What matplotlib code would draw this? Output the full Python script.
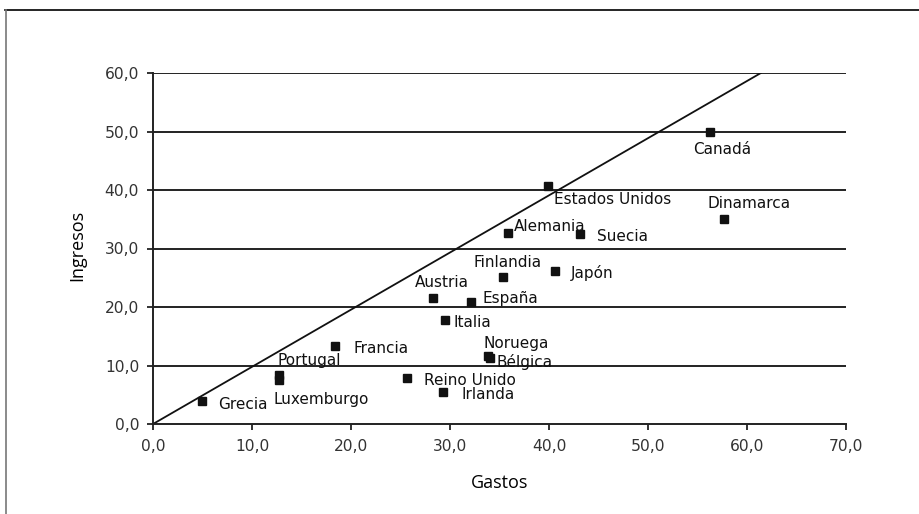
import matplotlib.pyplot as plt
from matplotlib.lines import Line2D

# datos: gastos (x) e ingresos (y) por país
paises = ["Canadá", "Estados Unidos", "Dinamarca", "Alemania", "Suecia",
          "Finlandia", "Japón", "Austria", "España", "Italia", "Francia",
          "Noruega", "Bélgica", "Portugal", "Luxemburgo", "Reino Unido",
          "Irlanda", "Grecia"]
gastos = [56.3, 39.9, 57.7, 35.9, 43.1, 35.4, 40.6, 28.3, 32.1, 29.5, 18.4,
          33.8, 34.0, 12.7, 12.7, 25.7, 29.3, 4.9]
ingresos = [50.0, 40.7, 35.0, 32.6, 32.5, 25.1, 26.2, 21.5, 20.8, 17.8, 13.3,
            11.6, 11.3, 8.4, 7.5, 7.8, 5.5, 3.9]

# recta de referencia
recta_x = [0, 61.4]
recta_y = [0, 60]

x_ticks = [0, 10, 20, 30, 40, 50, 60, 70]
y_ticks = [0, 10, 20, 30, 40, 50, 60]

# desplazamiento de cada etiqueta en pixeles (dx, dy hacia abajo)
offsets = {
    "Canadá": (-17, 18), "Estados Unidos": (6, 14), "Dinamarca": (-17, -16),
    "Alemania": (5, -7), "Suecia": (17, 3), "Finlandia": (-30, -15),
    "Japón": (16, 2), "Austria": (-18, -16), "España": (12, -4),
    "Italia": (8, 3), "Francia": (18, 2), "Noruega": (-4, -13),
    "Bélgica": (7, 4), "Portugal": (-1, -14), "Luxemburgo": (-5, 19),
    "Reino Unido": (17, 2), "Irlanda": (18, 3), "Grecia": (17, 3),
}

W, H = 919, 514
fig = plt.figure(figsize=(W / 100, H / 100), dpi=100)
ax = fig.add_axes([153 / W, 1 - 424 / H, (846 - 153) / W, (424 - 73) / H])

for y in y_ticks[1:]:
    ax.axhline(y, color="#222222", lw=1.4, zorder=1)

ax.plot(recta_x, recta_y, color="#111111", lw=1.3, zorder=2)
ax.plot(gastos, ingresos, "s", color="#111111", markersize=5.8, zorder=3)

for p, gx, gy in zip(paises, gastos, ingresos):
    dx, dy = offsets[p]
    ax.annotate(p, (gx, gy), xytext=(dx * 0.72, -dy * 0.72),
                textcoords="offset points", ha="left", va="center",
                fontsize=11, color="#111111", family="DejaVu Sans")

ax.set_xlim(0, 70)
ax.set_ylim(0, 60)
ax.set_xticks(x_ticks)
ax.set_yticks(y_ticks)
ax.set_xticklabels([f"{v:.1f}".replace(".", ",") for v in x_ticks])
ax.set_yticklabels([f"{v:.1f}".replace(".", ",") for v in y_ticks])
ax.tick_params(direction="out", length=4, width=1.3, colors="#222222",
               labelsize=11.2, labelcolor="#333333")
ax.tick_params(axis="x", pad=7)
ax.tick_params(axis="y", pad=6)

for s in ["top", "right"]:
    ax.spines[s].set_visible(False)
for s in ["left", "bottom"]:
    ax.spines[s].set_linewidth(1.4)
    ax.spines[s].set_color("#222222")

fig.text(500 / W, 1 - 483 / H, "Gastos", ha="center", va="center",
         fontsize=13, family="Open Sans")
fig.text(77 / W, 1 - 245 / H, "Ingresos", ha="center", va="center",
         fontsize=13, family="Open Sans", rotation=90)

# marco exterior
fig.add_artist(Line2D([5 / W, 1], [1 - 10 / H, 1 - 10 / H], color="black", lw=1.2))
fig.add_artist(Line2D([6 / W, 6 / W], [0, 1 - 10 / H], color="#777777", lw=1.2))

fig.savefig("out.png", dpi=100)
